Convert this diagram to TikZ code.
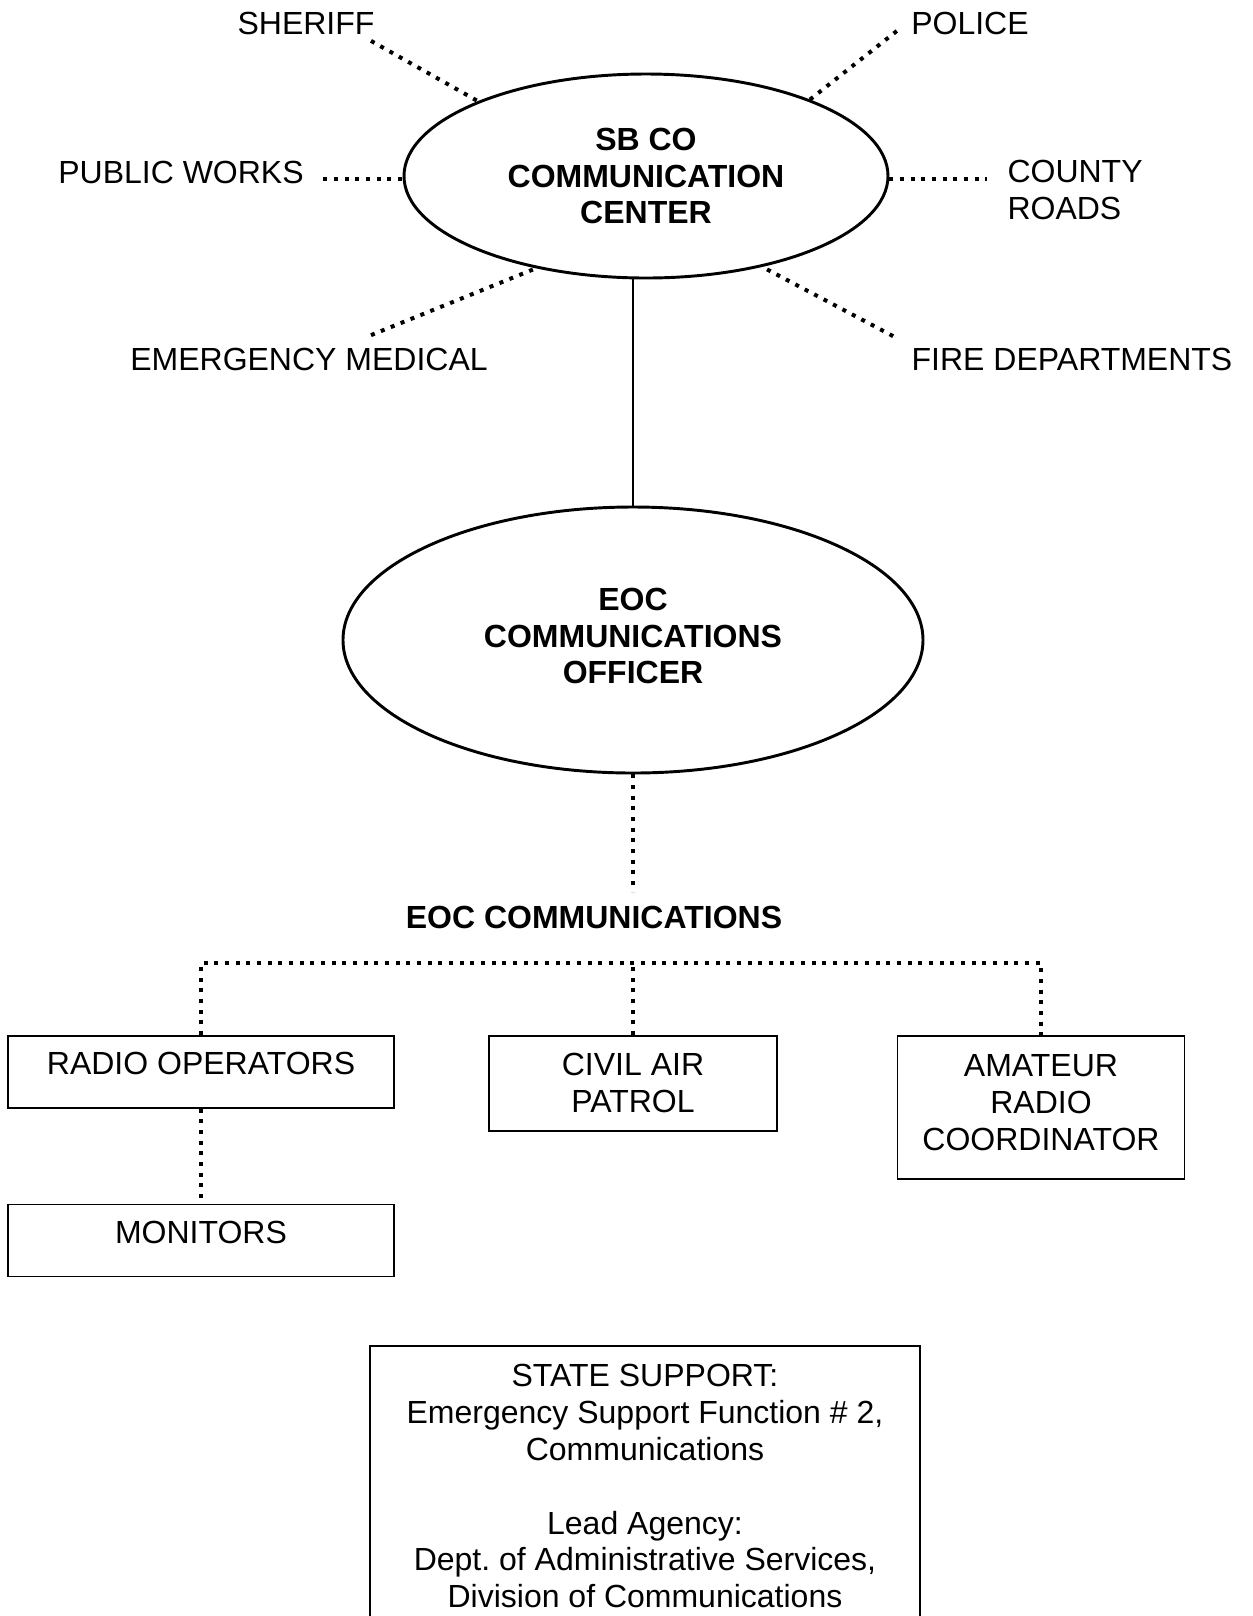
\documentclass[tikz,border=0pt]{standalone}
\usepackage{fontspec}
\setmainfont{Liberation Sans}
\usetikzlibrary{positioning,shapes.geometric}

\tikzset{
    hub/.style={ellipse, draw, line width=1.1pt, inner sep=0pt, align=center, font=\fontsize{12}{13.8}\selectfont\bfseries},
    unit/.style={rectangle, draw, line width=0.6pt, anchor=north, align=center, inner sep=0pt},
    tag/.style={inner sep=0pt, align=center},
    dotlink/.style={line width=1.5pt, dash pattern=on 1.5pt off 2.5pt},
}

\begin{document}
\begin{tikzpicture}[x=0.375pt, y=-0.375pt, font=\fontsize{12}{13.8}\selectfont]
    \useasboundingbox (0,0) rectangle (1252,1616);

    \node[hub, minimum width=181.5pt, minimum height=76.5pt] (sbcc) at (646,176) {SB CO\\COMMUNICATION\\CENTER};
    \node[hub, minimum width=217.5pt, minimum height=99.75pt, text depth=3pt] (eoco) at (633,640) {EOC\\COMMUNICATIONS\\OFFICER};

    \node[tag] (sheriff) at (306,23) {SHERIFF};
    \node[tag] (police) at (970,23) {POLICE};
    \node[tag] (pw) at (181,172) {PUBLIC WORKS};
    \node[tag, anchor=west, align=left] (county) at (1007,190) {COUNTY\\ROADS};
    \node[tag] (ems) at (309,359) {EMERGENCY MEDICAL};
    \node[tag] (fire) at (1072,359) {FIRE DEPARTMENTS};
    \node[tag, font=\fontsize{12}{13.8}\selectfont\bfseries] (eoccomm) at (594,917) {EOC COMMUNICATIONS};

    \node[unit, minimum width=144.75pt, minimum height=27pt, text depth=6pt] (radio) at (201,1035) {RADIO OPERATORS};
    \node[unit, minimum width=108pt, minimum height=35.6pt] (civil) at (633,1035) {CIVIL AIR\\PATROL};
    \node[unit, minimum width=107.6pt, minimum height=53.6pt, text depth=3.8pt] (amateur) at (1041,1035) {AMATEUR\\RADIO\\COORDINATOR};
    \node[unit, minimum width=144.75pt, minimum height=27pt, text depth=6pt, below=35.6pt of radio] (monitors) {MONITORS};

    \node[draw, line width=0.6pt, anchor=north, align=center, minimum width=206.25pt, inner xsep=0pt, inner ysep=7pt] (state) at (645,1345) {STATE SUPPORT:\\Emergency Support Function \# 2,\\Communications\\[13.8pt]Lead Agency:\\Dept.\ of Administrative Services,\\Division of Communications};

    \draw[dotlink] ([shift={(-4,6)}]sheriff.south east) -- (sbcc.156);
    \draw[dotlink] ([shift={(-14,8)}]police.west) -- (sbcc.25);
    \coordinate (pwdot) at ([shift={(19,7)}]pw.east);
    \draw[dotlink] (pwdot) -- (pwdot -| sbcc.west);
    \coordinate (crdot) at ([shift={(-20,-11)}]county.west);
    \draw[dotlink] (crdot -| sbcc.east) -- (crdot);
    \draw[dotlink] ([shift={(62,-12)}]ems.north) -- (sbcc.220);
    \draw[dotlink] ([shift={(-18,-11)}]fire.north west) -- (sbcc.-38);

    \draw[line width=0.55pt] (eoco.north) -- (eoco.north |- sbcc.south);
    \draw[dotlink] (eoco.south) -- ([yshift=5pt]eoco.south |- eoccomm.north);

    \coordinate (bus) at (633,963);
    \draw[dotlink] (radio.north) -- (radio.north |- bus) -- (amateur.north |- bus) -- (amateur.north);
    \draw[dotlink] (civil.north) -- (civil.north |- bus);
    \draw[dotlink] (radio.south) -- (monitors.north);
\end{tikzpicture}
\end{document}
